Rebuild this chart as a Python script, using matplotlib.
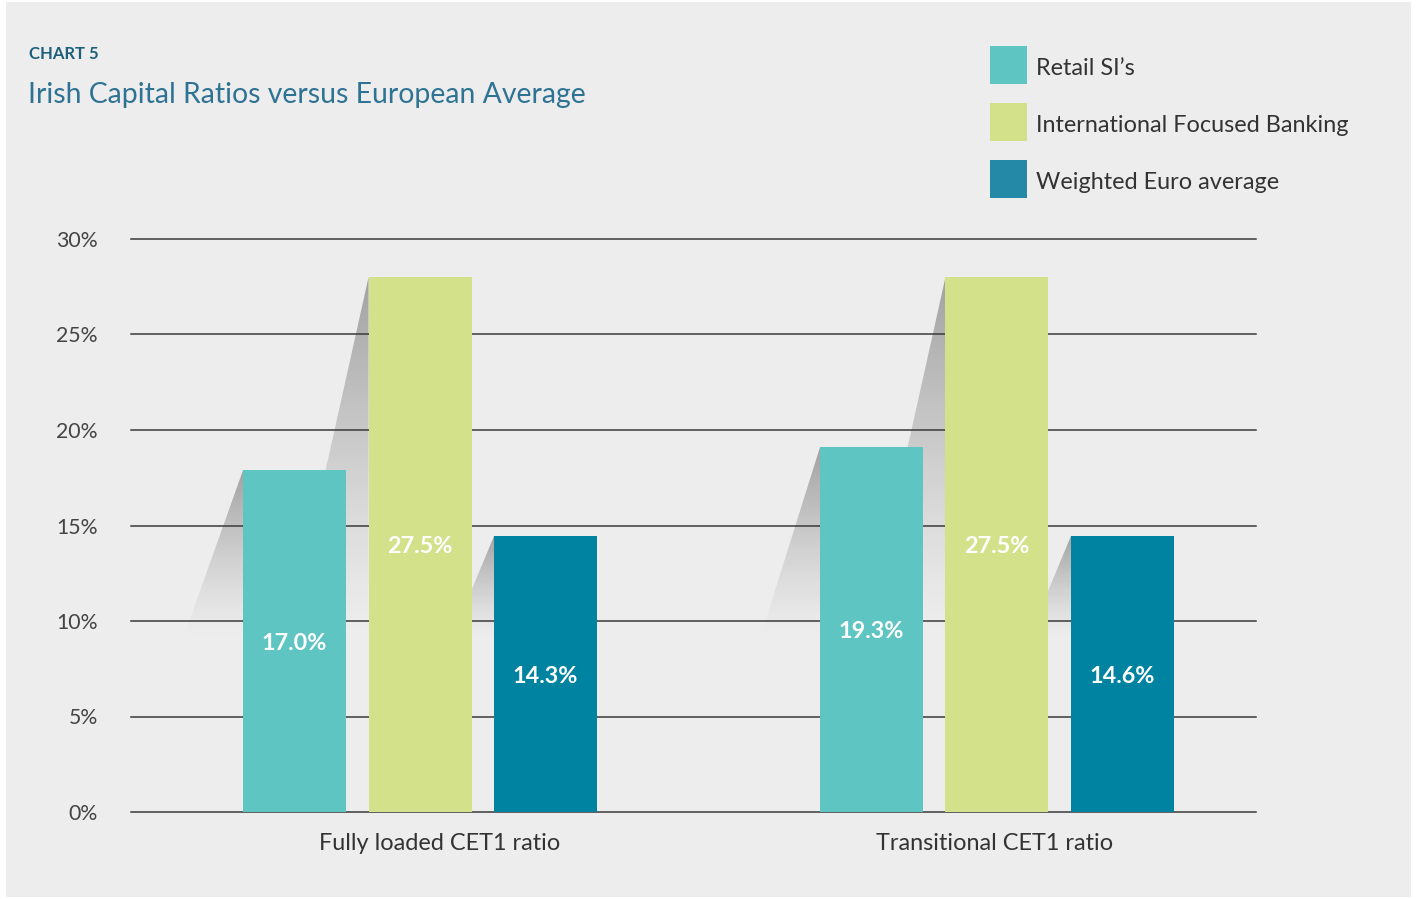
#!/usr/bin/env python3
"""Chart 5 - Irish Capital Ratios versus European Average"""

import numpy as np
import matplotlib
matplotlib.use('Agg')
import matplotlib.pyplot as plt
import matplotlib.transforms as mtransforms
from matplotlib.patches import Rectangle, Polygon

plt.rcParams['font.family'] = ['Lato', 'DejaVu Sans']

# Data (bar heights, labels as printed)
categories = ['Fully loaded CET1 ratio', 'Transitional CET1 ratio']
series_names = ['Retail SI\u2019s', 'International Focused Banking', 'Weighted Euro average']
retail = [17.9, 19.1]
international = [28.0, 28.0]
weighted = [14.45, 14.45]
retail_labels = ['17.0%', '19.3%']
international_labels = ['27.5%', '27.5%']
weighted_labels = ['14.3%', '14.6%']
yticks = [0, 5, 10, 15, 20, 25, 30]

BG = '#ededed'
bar_colors = ['#5ec5c2', '#d3e28a', '#0083a1']
legend_colors = ['#5ec5c2', '#d3e28a', '#2389a7']
shadow_reach = [0.105, 0.14, 0.075]   # horizontal reach of the drop shadows
SHADOW_BASE = 9.0
label_shift_px = [20, -2]             # category labels are not quite centred

W, H = 1416, 899
fig = plt.figure(figsize=(W / 100, H / 100), dpi=100, facecolor='white')
fig.add_artist(Rectangle((6 / W, 2 / H), 1405 / W, 895 / H, transform=fig.transFigure,
                         facecolor=BG, edgecolor='none', zorder=0))

ax = fig.add_axes([131 / W, 1 - 812 / H, 1125 / W, 573 / H])
ax.set_facecolor('none')
for s in ax.spines.values():
    s.set_visible(False)

x = np.arange(len(categories))
width = 0.1785
step = 0.2175
values = [retail, international, weighted]
labels = [retail_labels, international_labels, weighted_labels]

# gradient used for the shadows (dark at the top, fading downwards)
grad = np.zeros((200, 2, 4))
t = np.linspace(0, 1, 200)
grad[..., 3] = (0.32 * (1 - t) ** 1.3)[:, None]

for i, (vals, labs) in enumerate(zip(values, labels)):
    xs = x + (i - 1) * step
    bars = ax.bar(xs, vals, width=width, color=bar_colors[i], zorder=3)
    for b, lab in zip(bars, labs):
        xl = b.get_x()
        top = b.get_height()
        poly = Polygon([(xl, top), (xl - shadow_reach[i], SHADOW_BASE),
                        (xl, SHADOW_BASE)], closed=True,
                       facecolor='none', edgecolor='none', transform=ax.transData)
        ax.add_patch(poly)
        im = ax.imshow(grad, extent=(xl - shadow_reach[i], xl, SHADOW_BASE, top),
                       origin='upper', aspect='auto', zorder=1, interpolation='bilinear')
        im.set_clip_path(poly)
        ax.text(b.get_x() + width / 2, top / 2, lab, ha='center', va='center_baseline',
                color='white', fontsize=16.8, fontweight='bold', zorder=4)

ax.set_xlim(-0.501, 1.449)
ax.set_ylim(0, 30)

for yv in yticks:
    ax.axhline(yv, color='#3a3a3a', lw=1.1, zorder=2, clip_on=False)

ax.set_yticks(yticks)
ax.set_yticklabels([f'{v}%' for v in yticks], fontsize=15.3, color='#444444')
ax.set_xticks(x)
ax.set_xticklabels(categories, fontsize=16.9, color='#333333')
ax.tick_params(axis='y', length=0, pad=24)
ax.tick_params(axis='x', length=0, pad=15)
for lbl, dx in zip(ax.get_xticklabels(), label_shift_px):
    lbl.set_transform(lbl.get_transform() +
                      mtransforms.ScaledTranslation(dx / 100, 0, fig.dpi_scale_trans))

# Titles
fig.text(29 / W, 1 - 54 / H, 'CHART 5', fontsize=12, fontweight='bold',
         color='#1d5f7c', ha='left', va='center')
fig.text(28 / W, 1 - 95 / H, 'Irish Capital Ratios versus European Average',
         fontsize=20.4, color='#2e7393', ha='left', va='center')

# Legend
for i, name in enumerate(series_names):
    yc = 65 + 57 * i
    fig.add_artist(Rectangle((990 / W, 1 - (yc + 18.5) / H), 37 / W, 37 / H,
                             transform=fig.transFigure, facecolor=legend_colors[i],
                             edgecolor='none'))
    fig.text(1036 / W, 1 - (yc + 3.5) / H, name, fontsize=16.9,
             color='#333333', ha='left', va='center')

fig.savefig('out.png', dpi=100, facecolor='white')
